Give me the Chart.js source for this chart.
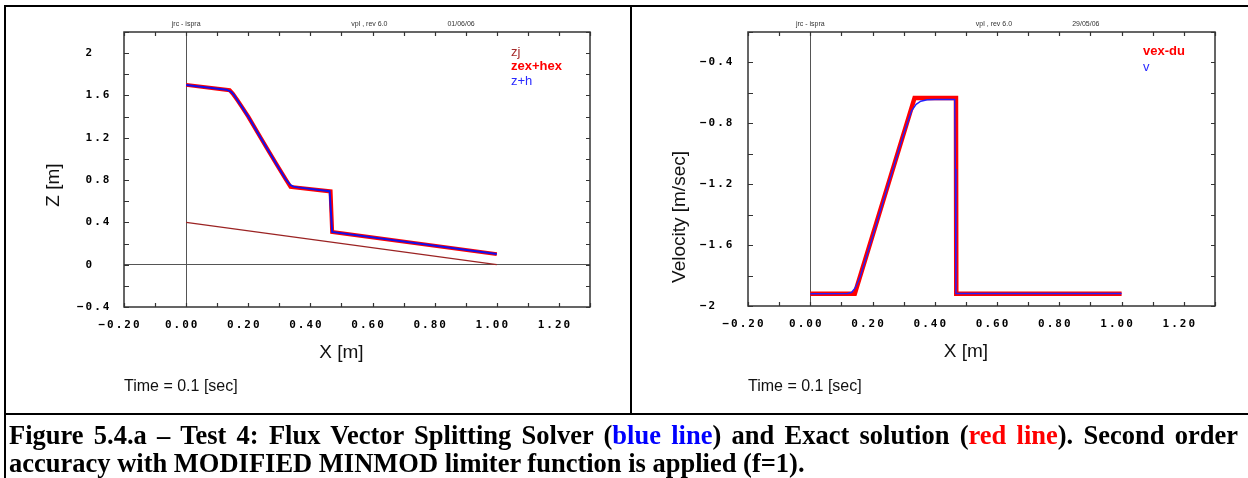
<!DOCTYPE html>
<html><head><meta charset="utf-8">
<script src="https://cdn.jsdelivr.net/npm/chart.js@4/dist/chart.umd.min.js"></script>
<style>
html,body{margin:0;padding:0;background:#fff;}
#wrap{position:relative;width:1248px;height:478px;overflow:hidden;background:#fff;}
.ln{position:absolute;background:#000;}
canvas{position:absolute;top:0;}
.cap{position:absolute;left:9px;width:1229px;font:bold 26.5px "Liberation Serif","Times New Roman",serif;color:#000;line-height:30px;}
</style></head>
<body>
<div id="wrap">
  <canvas id="c1" width="630" height="414" style="left:0;width:630px;height:414px"></canvas>
  <canvas id="c2" width="616" height="414" style="left:632px;width:616px;height:414px"></canvas>
  <div class="ln" style="left:4px;top:5px;width:1244px;height:2px"></div>
  <div class="ln" style="left:4px;top:5px;width:2px;height:473px"></div>
  <div class="ln" style="left:630px;top:5px;width:2px;height:410px"></div>
  <div class="ln" style="left:4px;top:413px;width:1244px;height:2px"></div>
  <div class="cap" style="top:420px;text-align:justify;text-align-last:justify;">Figure 5.4.a – Test 4: Flux Vector Splitting Solver (<span style="color:#0000ff">blue line</span>) and Exact solution (<span style="color:#ff0000">red line</span>). Second order</div>
  <div class="cap" style="top:448px;">accuracy with MODIFIED MINMOD limiter function is applied (f=1).</div>
</div>
<script>
// ---------- data (left chart: levels) ----------
const bedX   = [0.0, 1.0];
const bedZ   = [0.40, 0.0];
const exactZX = [0.0, 0.14, 0.15, 0.165, 0.18, 0.20, 0.23, 0.26, 0.29, 0.32, 0.336, 0.465, 0.47, 1.0];
const exactZ  = [1.70, 1.65, 1.618, 1.555, 1.49, 1.40, 1.25, 1.10, 0.955, 0.81, 0.735, 0.693, 0.31, 0.10];
const fvsZX  = [0.0, 0.13, 0.145, 0.155, 0.165, 0.18, 0.20, 0.23, 0.26, 0.29, 0.32, 0.335, 0.345, 0.36, 0.462, 0.466, 0.47, 1.0];
const fvsZ   = [1.70, 1.655, 1.635, 1.60, 1.555, 1.49, 1.40, 1.25, 1.10, 0.955, 0.81, 0.755, 0.738, 0.731, 0.695, 0.50, 0.31, 0.10];
// ---------- data (right chart: velocity) ----------
const exactVX = [0.0, 0.143, 0.335, 0.468, 0.469, 1.0];
const exactV  = [-1.919, -1.919, -0.633, -0.633, -1.919, -1.919];
const fvsVX  = [0.0, 0.12, 0.133, 0.145, 0.16, 0.20, 0.25, 0.30, 0.325, 0.34, 0.355, 0.375, 0.40, 0.464, 0.466, 0.468, 1.0];
const fvsV   = [-1.92, -1.918, -1.91, -1.88, -1.81, -1.545, -1.205, -0.87, -0.72, -0.675, -0.655, -0.645, -0.643, -0.643, -1.10, -1.918, -1.918];
// ---------- labels ----------
const leftLabels  = ['zj', 'zex+hex', 'z+h'];
const rightLabels = ['vex-du', 'v'];
const leftHeader  = ['jrc - ispra', 'vpl , rev 6.0', '01/06/06'];
const rightHeader = ['jrc - ispra', 'vpl , rev 6.0', '29/05/06'];
const headerAt    = [0.0, 0.59, 0.885];
const xTitle = 'X [m]';
const leftYTitle = 'Z [m]';
const rightYTitle = 'Velocity [m/sec]';
const timeText = 'Time = 0.1 [sec]';

const pts = (xs, ys) => xs.map((x, i) => ({x, y: ys[i]}));
const MINUS = '\u2212';
const sign = s => s.startsWith('-') ? MINUS + s.slice(1) : ' ' + s;
const fmtX = v => { const k = Math.round(v * 10); if (k % 2 !== 0 || v > 1.25) return ''; return v.toFixed(2).replace('-', MINUS); };
const fmtY = v => { const k = Math.round(v * 10); if (k % 4 !== 0) return ''; if (k === 0) return sign('0'); if (k % 10 === 0) return sign(String(k / 10)); return sign(v.toFixed(1)); };

const frame = {
  id: 'frame',
  beforeDraw(chart) { chart.ctx.letterSpacing = '2px'; },
  beforeDatasetsDraw(chart) { chart.ctx.letterSpacing = '0px'; },
  afterDatasetsDraw(chart) {
    const {ctx, chartArea: a, scales: {x, y}} = chart;
    ctx.save();
    ctx.strokeStyle = '#333'; ctx.lineWidth = 1.5;
    ctx.strokeRect(a.left, a.top, a.width, a.height);
    ctx.lineWidth = 1.2; ctx.beginPath();
    x.ticks.forEach(t => { const p = Math.round(x.getPixelForValue(t.value)) + 0.5;
      ctx.moveTo(p, a.top); ctx.lineTo(p, a.top + 4); ctx.moveTo(p, a.bottom); ctx.lineTo(p, a.bottom - 4); });
    y.ticks.forEach(t => { const p = Math.round(y.getPixelForValue(t.value)) + 0.5;
      ctx.moveTo(a.left, p); ctx.lineTo(a.left + 5, p); ctx.moveTo(a.right, p); ctx.lineTo(a.right - 4, p); });
    ctx.stroke(); ctx.restore();
  },
  afterDraw(chart, args, o) {
    const {ctx, chartArea: a, scales: {x}} = chart;
    ctx.save(); ctx.letterSpacing = '0px';
    // header
    ctx.font = '7px "Liberation Sans", Arial, sans-serif'; ctx.fillStyle = '#333';
    ctx.textAlign = 'center'; ctx.textBaseline = 'middle';
    o.header.forEach((t, i) => ctx.fillText(t, x.getPixelForValue(headerAt[i]), 24));
    // legend
    ctx.textAlign = 'left';
    chart.data.datasets.forEach((d, i) => {
      ctx.font = (d.legendBold ? 'bold ' : '') + '13px "Liberation Sans", Arial, sans-serif';
      ctx.fillStyle = d.legendColor || d.borderColor;
      ctx.fillText(d.label, a.right - o.legendDx, o.legendY + i * o.legendStep);
    });
    // titles
    ctx.fillStyle = '#111';
    ctx.font = '19px "Liberation Sans", Arial, sans-serif'; ctx.textAlign = 'center';
    ctx.fillText(xTitle, x.getPixelForValue(0.5), o.xTitleY);
    ctx.save(); ctx.translate(o.yTitleX, o.yTitleY); ctx.rotate(-Math.PI / 2);
    ctx.fillText(o.yTitle, 0, 0); ctx.restore();
    ctx.font = '16px "Liberation Sans", Arial, sans-serif'; ctx.textAlign = 'left';
    ctx.fillText(timeText, a.left, o.timeY);
    ctx.restore();
  }
};

function makeScales(yw, xh, ymin, ymax) {
  const tickFont = {family: '"DejaVu Sans Mono", monospace', size: 11, weight: 'bold'};
  const zeroGrid = {drawTicks: false, lineWidth: 1, color: c => (c.tick && c.tick.value === 0) ? '#555' : 'rgba(0,0,0,0)'};
  return {
    x: {type: 'linear', min: -0.2, max: 1.3, border: {display: false}, grid: zeroGrid,
        ticks: {stepSize: 0.1, autoSkip: false, maxRotation: 0, minRotation: 0, padding: 12, labelOffset: -4,
                color: '#000', font: tickFont, callback: fmtX},
        afterFit: s => { s.height = xh; }},
    y: {type: 'linear', min: ymin, max: ymax, border: {display: false}, grid: zeroGrid,
        ticks: {stepSize: 0.2, autoSkip: false, crossAlign: 'far', padding: 4, color: '#000', font: tickFont, callback: fmtY},
        afterFit: s => { s.width = yw; }}
  };
}

const common = {responsive: false, maintainAspectRatio: false, animation: false, devicePixelRatio: 1};

new Chart(document.getElementById('c1'), {
  type: 'scatter',
  data: {datasets: [
    {label: leftLabels[0], data: pts(bedX, bedZ), showLine: true, borderColor: '#9b2323', legendColor: '#a52a2a', borderWidth: 1.3, pointRadius: 0, order: 2},
    {label: leftLabels[1], data: pts(exactZX, exactZ), showLine: true, borderColor: '#ff0000', legendBold: true, borderWidth: 4, pointRadius: 0, borderJoinStyle: 'miter', order: 1},
    {label: leftLabels[2], data: pts(fvsZX, fvsZ), showLine: true, borderColor: '#1010ee', legendColor: '#2a2aff', borderWidth: 2, pointRadius: 0, order: 0}
  ]},
  options: Object.assign({}, common, {
    layout: {padding: {left: 77, right: 40, top: 32, bottom: 0}},
    scales: makeScales(47, 107, -0.4, 2.2),
    plugins: {legend: {display: false}, tooltip: {enabled: false},
      frame: {header: leftHeader, legendDx: 79, legendY: 52, legendStep: 14.5, xTitleY: 353, yTitle: leftYTitle, yTitleX: 54, yTitleY: 185, timeY: 387}}
  }),
  plugins: [frame]
});

new Chart(document.getElementById('c2'), {
  type: 'scatter',
  data: {datasets: [
    {label: rightLabels[0], data: pts(exactVX, exactV), showLine: true, borderColor: '#ff0000', legendBold: true, borderWidth: 4.5, pointRadius: 0, borderJoinStyle: 'miter', order: 1},
    {label: rightLabels[1], data: pts(fvsVX, fvsV), showLine: true, borderColor: '#2020ff', legendColor: '#2a2aff', borderWidth: 1.4, pointRadius: 0, order: 0}
  ]},
  options: Object.assign({}, common, {
    layout: {padding: {left: 68, right: 33, top: 32, bottom: 0}},
    scales: makeScales(48, 108, -2, -0.2),
    plugins: {legend: {display: false}, tooltip: {enabled: false},
      frame: {header: rightHeader, legendDx: 72, legendY: 51, legendStep: 16, xTitleY: 352, yTitle: rightYTitle, yTitleX: 48, yTitleY: 217, timeY: 387}}
  }),
  plugins: [frame]
});
</script>
</body></html>
